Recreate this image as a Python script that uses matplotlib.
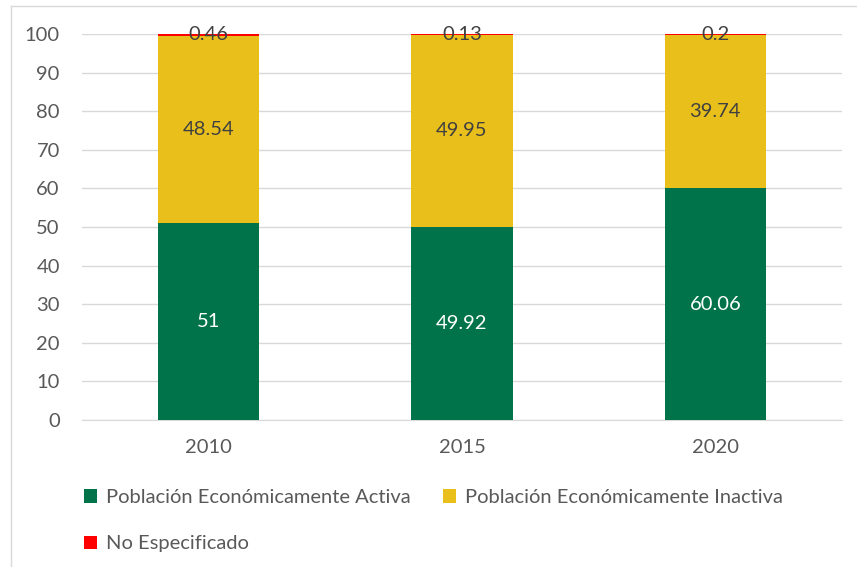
import numpy as np
import matplotlib.pyplot as plt
from matplotlib.lines import Line2D

plt.rcParams['font.family'] = ['Lato', 'DejaVu Sans']

years = ['2010', '2015', '2020']
activa = [51, 49.92, 60.06]
inactiva = [48.54, 49.95, 39.74]
no_esp = [0.46, 0.13, 0.2]
etiquetas = ['Población Económicamente Activa', 'Población Económicamente Inactiva', 'No Especificado']

verde = '#00734A'
amarillo = '#E9C01B'
rojo = '#FF0000'
gris_txt = '#595959'
fs = 14.5

fig = plt.figure(figsize=(8.57, 5.67), dpi=100)
ax = fig.add_axes([82/857, 1-420/567, 760/857, 386/567])

# borde del grafico
fig.add_artist(Line2D([11/857, 11/857], [0, 1-6/567], color='#D9D9D9', lw=1))
fig.add_artist(Line2D([11/857, 1], [1-6/567, 1-6/567], color='#D9D9D9', lw=1))

x = np.arange(len(years))
w = 0.4
a = np.array(activa)
b = np.array(inactiva)
c = np.array(no_esp)
b1 = ax.bar(x, a, w, color=verde, zorder=3)
b2 = ax.bar(x, b, w, bottom=a, color=amarillo, zorder=3)
b3 = ax.bar(x, c, w, bottom=a+b, color=rojo, zorder=3)

for i in range(len(years)):
    ax.text(x[i], a[i]/2, f'{activa[i]:g}', ha='center', va='center', color='white', fontsize=fs, zorder=4)
    ax.text(x[i], a[i] + b[i]/2, f'{inactiva[i]:g}', ha='center', va='center', color='#404040', fontsize=fs, zorder=4)
    ax.text(x[i], a[i] + b[i] + c[i]/2, f'{no_esp[i]:g}', ha='center', va='center', color='#404040', fontsize=fs, zorder=4)

ax.set_xlim(-0.5, 2.5)
ax.set_ylim(0, 100)
ax.set_yticks(np.arange(0, 101, 10))
ax.set_xticks(x)
ax.set_xticklabels(years)
ax.yaxis.grid(True, color='#D9D9D9', lw=1, zorder=0)
ax.set_axisbelow(True)
for s in ['top', 'right', 'left']:
    ax.spines[s].set_visible(False)
ax.spines['bottom'].set_color('#D9D9D9')
ax.tick_params(axis='both', length=0, labelsize=fs, colors=gris_txt)
ax.tick_params(axis='x', pad=14)
ax.tick_params(axis='y', pad=16)

handles = [b1, b3, b2]
labels = [etiquetas[0], etiquetas[2], etiquetas[1]]
fig.legend(handles, labels, ncol=2, loc='upper left', bbox_to_anchor=(66/857, 1-471/567),
           frameon=False, fontsize=fs, labelcolor=gris_txt, handlelength=0.65, handleheight=0.65,
           handletextpad=0.45, columnspacing=1.6, labelspacing=1.45)

fig.savefig('out.png', dpi=100)
